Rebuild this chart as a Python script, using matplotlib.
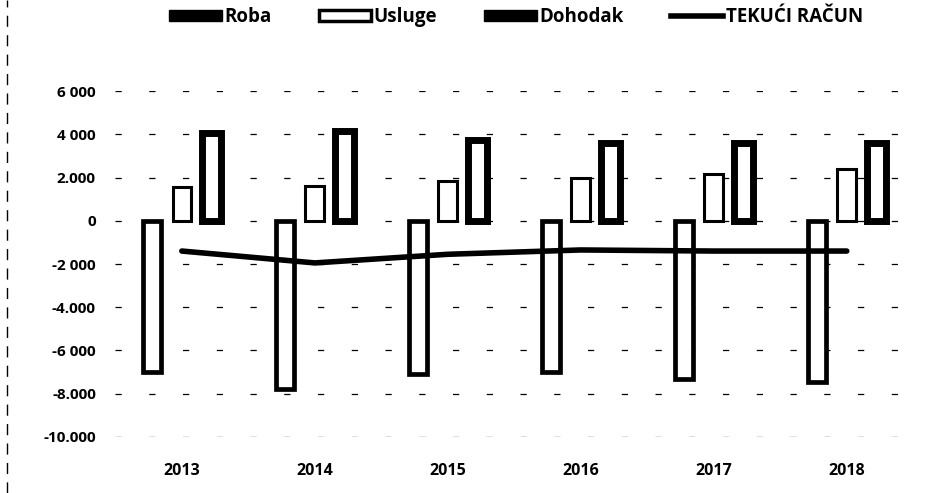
import numpy as np
import matplotlib
matplotlib.use('Agg')
import matplotlib.pyplot as plt
from matplotlib.patches import Patch
from matplotlib.lines import Line2D

# podaci (procjena s grafikona)
godine = ['2013', '2014', '2015', '2016', '2017', '2018']
roba = [-7000, -7770, -7090, -7000, -7330, -7450]
usluge = [1550, 1600, 1860, 2000, 2170, 2400]
dohodak = [4050, 4180, 3730, 3590, 3600, 3600]
tekuci_racun = [-1400, -1950, -1550, -1350, -1400, -1400]

y_ticks = [6000, 4000, 2000, 0, -2000, -4000, -6000, -8000, -10000]
y_labels = ['6 000', '4 000', '2.000', '0', '-2 000', '-4.000', '-6 000', '-8.000', '-10.000']

plt.rcParams['font.family'] = ['Open Sans', 'DejaVu Sans']
plt.rcParams['font.weight'] = 'bold'

fig = plt.figure(figsize=(9.3, 4.93), dpi=100)
ax = fig.add_axes([0.124, 0.114, 0.858, 0.701])

x = np.arange(len(godine))
w = 0.14
ax.bar(x - 0.225, roba, w, facecolor='white', edgecolor='black', linewidth=3.4, zorder=3)
ax.bar(x, usluge, w, facecolor='white', edgecolor='black', linewidth=2.2, zorder=3)
ax.bar(x + 0.225, dohodak, w, facecolor='white', edgecolor='black', linewidth=5, zorder=3)
ax.plot(x, tekuci_racun, color='black', linewidth=4, solid_capstyle='round', zorder=4)

ax.set_xlim(-0.5, len(godine) - 0.5)
ax.set_ylim(-10000, 6000)
ax.set_xticks(x)
ax.set_xticklabels(godine, fontsize=11.5)
ax.set_yticks(y_ticks)
ax.set_yticklabels(y_labels, fontsize=11)
ax.tick_params(length=0)
ax.tick_params(axis='y', pad=14)
ax.tick_params(axis='x', pad=19)
for s in ax.spines.values():
    s.set_visible(False)
ax.yaxis.grid(True, color='black', linewidth=0.9, linestyle=(0, (5, 22)))
ax.set_axisbelow(True)

handles = [Patch(facecolor='black', edgecolor='black'),
           Patch(facecolor='white', edgecolor='black', linewidth=2.5),
           Patch(facecolor='black', edgecolor='black'),
           Line2D([0], [0], color='black', linewidth=4)]
fig.legend(handles, ['Roba', 'Usluge', 'Dohodak', 'TEKUĆI RAČUN'],
           loc='upper center', bbox_to_anchor=(0.555, 1.02), ncol=4, frameon=False,
           fontsize=13.5, handlelength=2.8, handleheight=0.55, handletextpad=0.15,
           columnspacing=2.5)

# rub skena lijevo
fig.add_artist(Line2D([0.008, 0.008], [0.0, 1.0], color='black', linewidth=1,
                      linestyle=(0, (8, 6))))

fig.savefig('out.png', dpi=100, facecolor='white')
